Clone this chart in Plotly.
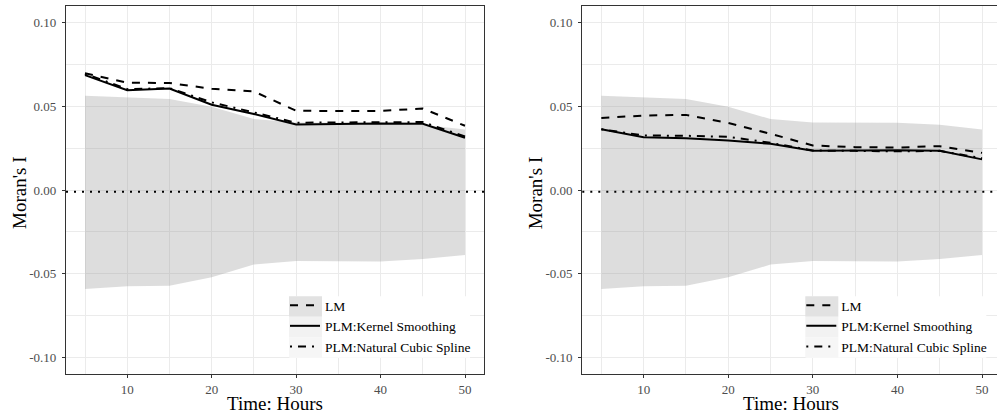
import plotly.graph_objects as go

W, H = 997, 413

# ---------------- data ----------------
hours = [5, 10, 15, 20, 25, 30, 35, 40, 45, 50]

band_upper = [0.0564, 0.0552, 0.0544, 0.0498, 0.0424, 0.0404, 0.0402, 0.0402, 0.0390, 0.0362]
band_lower = [-0.0592, -0.0576, -0.0572, -0.0522, -0.0446, -0.0424, -0.0426, -0.0428, -0.0412, -0.0388]

left_lm = [0.0698, 0.0641, 0.0640, 0.0605, 0.0589, 0.0474, 0.0472, 0.0473, 0.0487, 0.0384]
left_kernel = [0.0687, 0.0597, 0.0607, 0.0510, 0.0454, 0.0392, 0.0394, 0.0398, 0.0396, 0.0312]
left_spline = [0.0695, 0.0603, 0.0609, 0.0524, 0.0464, 0.0402, 0.0404, 0.0406, 0.0406, 0.0320]

right_lm = [0.0431, 0.0445, 0.0449, 0.0401, 0.0336, 0.0266, 0.0256, 0.0254, 0.0262, 0.0222]
right_kernel = [0.0363, 0.0316, 0.0310, 0.0296, 0.0276, 0.0234, 0.0236, 0.0238, 0.0234, 0.0183]
right_spline = [0.0363, 0.0326, 0.0324, 0.0318, 0.0282, 0.0236, 0.0234, 0.0231, 0.0234, 0.0190]

expected_I = -0.001

series_names = ["LM", "PLM:Kernel Smoothing", "PLM:Natural Cubic Spline"]
y_ticks = [-0.10, -0.05, 0.00, 0.05, 0.10]
y_tick_labels = ["-0.10", "-0.05", "0.00", "0.05", "0.10"]
x_ticks = [10, 20, 30, 40, 50]
x_tick_labels = ["10", "20", "30", "40", "50"]

# ---------------- style ----------------
FONT = "Liberation Serif"
dashes = ["8px,8px", "solid", "2px,6px,8px,6px"]
LW = 2.0
band_fill = "rgba(150,150,150,0.32)"
grid_col = "#ebebeb"
border_col = "#333333"


def px_x(p):
    return p / W


def px_y(p):
    return 1 - p / H


fig = go.Figure()

panels = [
    dict(xa="x", ya="y", lines=[left_lm, left_kernel, left_spline], legend="legend"),
    dict(xa="x2", ya="y2", lines=[right_lm, right_kernel, right_spline], legend="legend2"),
]

for p in panels:
    fig.add_trace(go.Scatter(x=hours, y=band_lower, mode="lines", line=dict(width=0),
                             showlegend=False, hoverinfo="skip", xaxis=p["xa"], yaxis=p["ya"]))
    fig.add_trace(go.Scatter(x=hours, y=band_upper, mode="lines", line=dict(width=0),
                             fill="tonexty", fillcolor=band_fill, showlegend=False,
                             hoverinfo="skip", xaxis=p["xa"], yaxis=p["ya"]))
    for name, vals, dash in zip(series_names, p["lines"], dashes):
        fig.add_trace(go.Scatter(x=hours, y=vals, mode="lines", name=name,
                                 line=dict(color="black", width=LW, dash=dash),
                                 xaxis=p["xa"], yaxis=p["ya"], legend=p["legend"]))

# geometry (pixels)
L_x0, L_x1 = 66, 484
R_x0, R_x1 = 582.3, 997
P_top, P_bot = 6, 374

axis_common = dict(
    showgrid=True, gridcolor=grid_col, gridwidth=1.1,
    zeroline=False, ticks="outside", ticklen=3, tickwidth=1, tickcolor=border_col,
    showline=True, linecolor=border_col, linewidth=1.2,
    tickfont=dict(family=FONT, size=13, color="#4d4d4d"),
    layer="above traces",
)
xaxis_common = dict(axis_common, tickvals=x_ticks, ticktext=x_tick_labels,
                    minor=dict(tickvals=[5, 15, 25, 35, 45], showgrid=True,
                               gridcolor=grid_col, gridwidth=0.6, ticks=""))
yaxis_common = dict(axis_common, tickvals=y_ticks, ticktext=y_tick_labels, range=[-0.11, 0.11],
                    minor=dict(tickvals=[-0.075, -0.025, 0.025, 0.075], showgrid=True,
                               gridcolor=grid_col, gridwidth=0.6, ticks=""),
                    ticklabelstandoff=3)

LEG_TOP = 290
legend_common = dict(y=px_y(LEG_TOP), xanchor="left", yanchor="top",
                     bgcolor="rgba(0,0,0,0)", borderwidth=0,
                     font=dict(family=FONT, size=13.5, color="black"),
                     tracegroupgap=0, itemwidth=30, traceorder="normal")

fig.update_layout(
    width=W, height=H,
    margin=dict(l=0, r=0, t=0, b=0),
    paper_bgcolor="white", plot_bgcolor="white",
    font=dict(family=FONT, color="black"),
    xaxis=dict(xaxis_common, domain=[px_x(L_x0), px_x(L_x1)], range=[2.75, 52.25],
               mirror=True, anchor="y"),
    yaxis=dict(yaxis_common, domain=[px_y(P_bot), px_y(P_top)], mirror=True, anchor="x"),
    xaxis2=dict(xaxis_common, domain=[px_x(R_x0), 1.0], range=[2.75, 51.77],
                mirror=True, anchor="y2"),
    yaxis2=dict(yaxis_common, domain=[px_y(P_bot), px_y(P_top)], mirror=False, anchor="x2"),
    legend=dict(legend_common, x=px_x(285)),
    legend2=dict(legend_common, x=px_x(285 + 516.3)),
    showlegend=True,
)

shapes = []
for xa, ya in [("x", "y"), ("x2", "y2")]:
    shapes.append(dict(type="line", xref=f"{xa} domain", yref=ya, x0=0, x1=1,
                       y0=expected_I, y1=expected_I,
                       line=dict(color="black", width=2, dash="2px,6px"), layer="above"))

# legend background boxes and key backgrounds (paper coords)
key_cols = ["#e2e2e2", "#f2f2f2", "#f6f6f6"]
row_c = [306.5, 327, 347.5]
half = 10.2
for off in [0, 516.3]:
    shapes.append(dict(type="rect", xref="paper", yref="paper",
                       x0=px_x(290 + off), x1=px_x(470 + off),
                       y0=px_y(row_c[-1] + half), y1=px_y(row_c[0] - half),
                       fillcolor="white", line=dict(width=0), layer="above"))
    for col, c in zip(key_cols, row_c):
        shapes.append(dict(type="rect", xref="paper", yref="paper",
                           x0=px_x(289 + off), x1=px_x(322 + off),
                           y0=px_y(c + half), y1=px_y(c - half),
                           fillcolor=col, line=dict(width=0), layer="above"))

fig.update_layout(shapes=shapes)

annotations = []
for x0, x1 in [(L_x0, L_x1), (R_x0, R_x0 + (L_x1 - L_x0))]:
    annotations.append(dict(text="Time: Hours", xref="paper", yref="paper",
                            x=px_x((x0 + x1) / 2), y=px_y(403), xanchor="center", yanchor="middle",
                            showarrow=False, font=dict(family=FONT, size=19, color="black")))
    annotations.append(dict(text="Moran's I", xref="paper", yref="paper",
                            x=px_x(x0 - 47), y=px_y(193), xanchor="center", yanchor="middle",
                            textangle=-90, showarrow=False,
                            font=dict(family=FONT, size=19, color="black")))
fig.update_layout(annotations=annotations)

fig.write_html("out.html", config={"displayModeBar": False},
               post_script="document.body.style.margin='0px';document.body.style.overflow='hidden';")
